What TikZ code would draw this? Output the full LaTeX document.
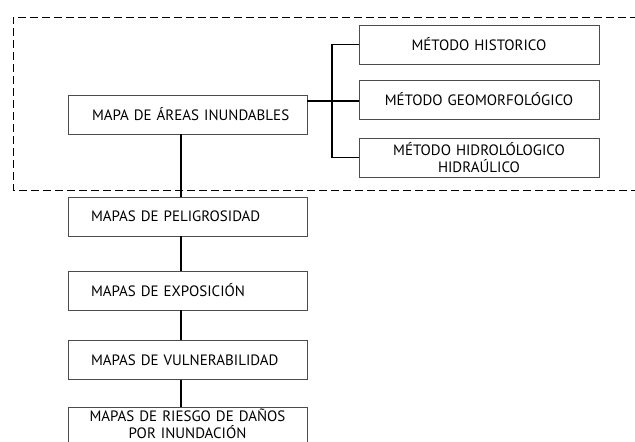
\documentclass[tikz,border=0pt]{standalone}
\usepackage{fontspec}
\setmainfont{PT Sans}
\begin{document}
\begin{tikzpicture}[x=1pt,y=-1pt,
  box/.style={draw=black!70,line width=0.7pt,minimum height=39pt,inner ysep=0pt,font=\fontsize{15}{16.5}\selectfont},
  leftbox/.style={box,text width=239pt,inner xsep=0pt,align=left},
  rightbox/.style={box,minimum width=240pt,text width=240pt,inner xsep=0pt,align=center},
  conn/.style={line width=1.1pt,black},
  frame/.style={dashed,line width=1pt,dash pattern=on 8pt off 4pt}]
\clip (0,0) rectangle (635,442);
\useasboundingbox (0,0) rectangle (635,442);
\draw[frame] (650,17) -- (13,17) -- (13,190) -- (650,190);
\node[leftbox] (main) at (187.5,114.5) {\hspace*{24pt}MAPA DE ÁREAS INUNDABLES};
\node[rightbox] (hist) at (479,44.5) {MÉTODO HISTORICO};
\node[rightbox] (geo) at (479,99.5) {MÉTODO GEOMORFOLÓGICO};
\node[rightbox] (hidro) at (479,157.5) {MÉTODO HIDROLÓLOGICO\\[1pt]HIDRAÚLICO};
\node[leftbox] (pel) at (187.5,216.5) {\hspace*{23pt}MAPAS DE PELIGROSIDAD};
\node[leftbox] (expo) at (187.5,290.5) {\hspace*{23pt}MAPAS DE EXPOSICIÓN};
\node[leftbox] (vul) at (187.5,360) {\hspace*{23pt}MAPAS DE VULNERABILIDAD};
\node[leftbox,align=center] (ries) at (187.5,426.5) {MAPAS DE RIESGO DE DAÑOS\\POR INUNDACIÓN\rule[-6pt]{0pt}{0pt}};
\coordinate (spine) at (181,0);
\coordinate (jx) at (332,0);
\coordinate (mid) at (0,101);
\draw[conn] (main.east |- mid) -- (geo.west |- mid);
\draw[conn] (hist.west) -- (hist.west -| jx) -- (hidro.west -| jx) -- (hidro.west);
\draw[conn] (main.south -| spine) -- (pel.north -| spine);
\draw[conn] (pel.south -| spine) -- (expo.north -| spine);
\draw[conn] (expo.south -| spine) -- (vul.north -| spine);
\draw[conn] (vul.south -| spine) -- (ries.north -| spine);
\end{tikzpicture}
\end{document}
